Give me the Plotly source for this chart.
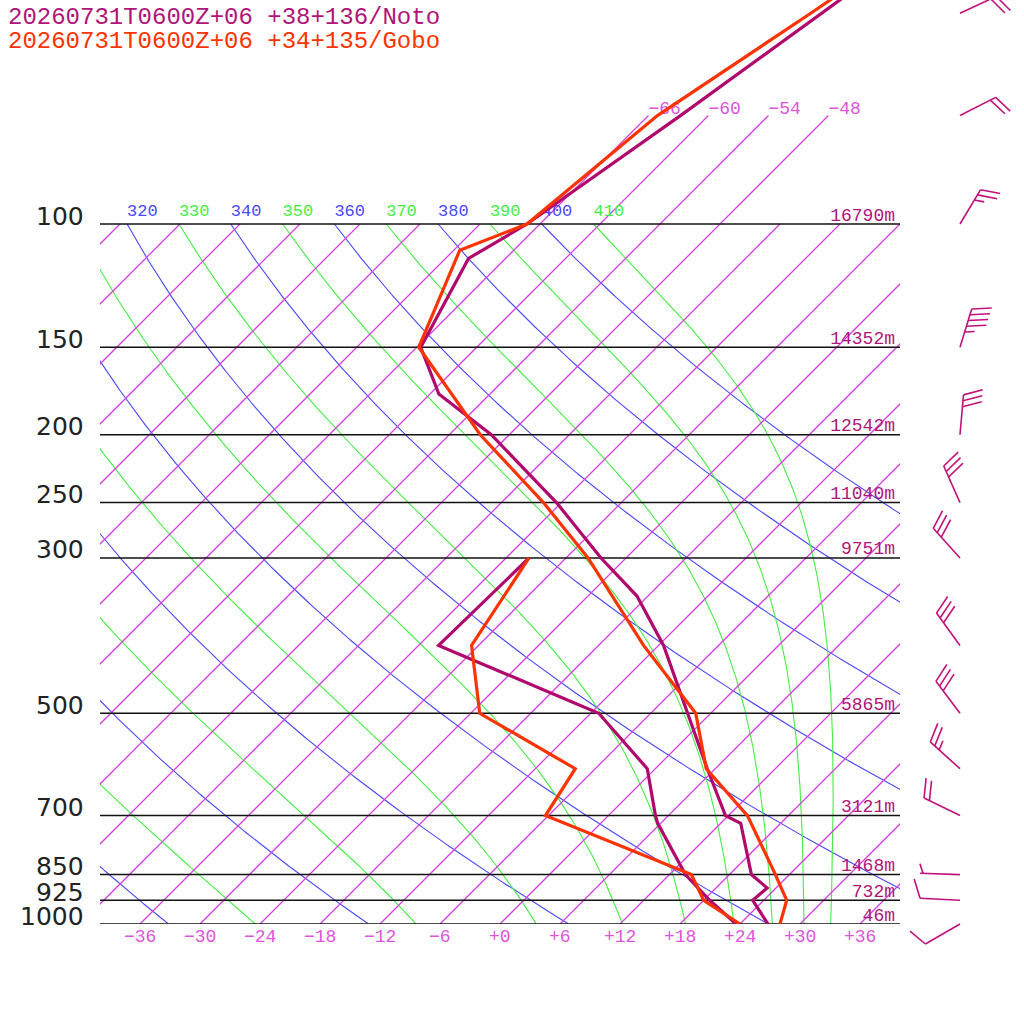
import numpy as np
import plotly.graph_objects as go

TITLES = ["20260731T0600Z+06 +38+136/Noto", "20260731T0600Z+06 +34+135/Gobo"]

NOTO_T_P = [1000, 925, 888, 850, 718, 700, 600, 500, 400, 340, 300, 250, 200, 175, 150, 112, 100, 70, 50, 45]
NOTO_T = [26.8, 22.9, 23.1, 20.2, 14.0, 11.7, 5.2, -2.3, -11.5, -19.1, -26.5, -36.5, -49.8, -59.1, -65.6, -69.7, -67.3, -62.8, -58.9, -57.7]
NOTO_TD_P = [1000, 925, 850, 718, 700, 600, 500, 400, 300]
NOTO_TD = [23.6, 18.6, 13.6, 5.7, 4.7, -0.8, -11.2, -34.0, -33.7]

GOBO_T_P = [1000, 925, 850, 700, 600, 500, 400, 300, 250, 200, 150, 109, 100, 70, 50, 45]
GOBO_T = [28.0, 26.3, 22.6, 13.9, 5.1, -1.5, -13.5, -27.8, -37.8, -50.9, -65.8, -71.4, -67.3, -65.1, -60.0, -58.5]
GOBO_TD_P = [1000, 925, 850, 700, 600, 500, 400, 300]
GOBO_TD = [24.0, 18.0, 14.2, -6.3, -8.0, -23.1, -30.7, -33.7]

WIND_P = [1000, 925, 850, 700, 600, 500, 400, 300, 250, 200, 150, 100, 70, 50]
WIND_DIR = [240, 273, 272, 296, 312, 323, 324, 318, 336, 5, 17, 31, 63, 65]
WIND_KT = [10, 10, 5, 20, 25, 30, 30, 30, 30, 30, 45, 25, 20, 20]

ISOBARS = [100, 150, 200, 250, 300, 500, 700, 850, 925, 1000]
HEIGHTS = [16790, 14352, 12542, 11040, 9751, 5865, 3121, 1468, 732, 46]

ISOTHERMS = list(range(-108, 37, 6))
HIGH_ISOTHERMS = [-66, -60, -54, -48]
AXIS_TEMPS = list(range(-36, 37, 6))
DRY_THETA = list(range(240, 401, 20))
MOIST_THETA = list(range(250, 411, 20))

NOTO_COLOR = "#b0086c"
GOBO_COLOR = "#ff3300"
TEXT_NOTO = "#b01478"
ISO_T_COLOR = "#d444dd"
ISO_T_TEXT = "#dd55dd"
DRY_COLOR = "#4848ff"
MOIST_COLOR = "#44ee44"
MONO = "Liberation Mono"

SKEW = 70.0          # deg C of shift per decade of pressure
PX_DECADE = 700.0    # pixels per decade of pressure
P_TOP = 1000 / 10 ** (924 / PX_DECADE)
P_BOTTOM = 1000 * 10 ** (100 / PX_DECADE)
RD, CP, LV, EPS = 287.04, 1005.7, 2.501e6, 0.622


def skew(t, p):
    return np.asarray(t, dtype=float) + SKEW * np.log10(1000.0 / np.asarray(p, dtype=float))


def p_shift(p, px):
    # move a pressure by px screen pixels (positive = downwards)
    return p * 10 ** (px / PX_DECADE)


def signed(t):
    return "+%d" % t if t >= 0 else "\u2212%d" % -t


def moist_dtdp(t_k, p):
    es = 6.112 * np.exp(17.67 * (t_k - 273.15) / (t_k - 29.65))
    rs = EPS * es / (p - es)
    num = RD * t_k + LV * rs
    den = CP + LV * LV * rs * EPS / (RD * t_k * t_k)
    return num / (p * den)


def pseudo_adiabat(theta, levels):
    t = theta * (levels[0] / 1000.0) ** (RD / CP)
    out = [t]
    for p0, p1 in zip(levels[:-1], levels[1:]):
        h = p1 - p0
        k1 = moist_dtdp(t, p0)
        k2 = moist_dtdp(t + h * k1 / 2, p0 + h / 2)
        k3 = moist_dtdp(t + h * k2 / 2, p0 + h / 2)
        k4 = moist_dtdp(t + h * k3, p1)
        t = t + h * (k1 + 2 * k2 + 2 * k3 + k4) / 6
        out.append(t)
    return np.array(out) - 273.15


def joined(segments):
    xs, ys = [], []
    for x, y in segments:
        xs += [float(v) for v in x] + [None]
        ys += [float(v) for v in y] + [None]
    return xs, ys


def barb(p, direction, speed, base=60.0, staff=40.0, full=20.0, gap=6.0):
    d = np.radians(direction)
    ux, uy = np.sin(d), -np.cos(d)
    a = np.radians(70)
    bx = ux * np.cos(a) - uy * np.sin(a)
    by = ux * np.sin(a) + uy * np.cos(a)
    segs = [((0, staff * ux), (0, staff * uy))]
    n_full, half = speed // 10, (speed % 10) >= 5
    for i in range(n_full):
        sx, sy = (staff - i * gap) * ux, (staff - i * gap) * uy
        segs.append(((sx, sx + full * bx), (sy, sy + full * by)))
    if half:
        k = n_full if n_full else 0.5
        sx, sy = (staff - k * gap) * ux, (staff - k * gap) * uy
        segs.append(((sx, sx + full / 2 * bx), (sy, sy + full / 2 * by)))
    out = []
    for xs, ys in segs:
        out.append(([base + v for v in xs], [p_shift(p, v) for v in ys]))
    return out


levels = np.geomspace(100, 1000, 300)
fig = go.Figure()

# dry adiabats
segs = []
for th in DRY_THETA:
    t = th * (levels / 1000.0) ** (RD / CP) - 273.15
    segs.append((skew(t, levels), levels))
x, y = joined(segs)
fig.add_trace(go.Scatter(x=x, y=y, mode="lines", line=dict(color=DRY_COLOR, width=1.1), hoverinfo="skip"))

# moist adiabats
segs = []
for th in MOIST_THETA:
    t = pseudo_adiabat(th, levels)
    segs.append((skew(t, levels), levels))
x, y = joined(segs)
fig.add_trace(go.Scatter(x=x, y=y, mode="lines", line=dict(color=MOIST_COLOR, width=1.1), hoverinfo="skip"))

# isotherms
segs = []
for t in ISOTHERMS:
    top = 70 if t in HIGH_ISOTHERMS else 100
    segs.append((skew([t, t], [1000, top]), [1000, top]))
x, y = joined(segs)
fig.add_trace(go.Scatter(x=x, y=y, mode="lines", line=dict(color=ISO_T_COLOR, width=1.3), hoverinfo="skip"))

# isobars
x, y = joined([([-40, 40], [p, p]) for p in ISOBARS])
fig.add_trace(go.Scatter(x=x, y=y, mode="lines", line=dict(color="#111111", width=1.5), hoverinfo="skip"))

# adiabat labels along the top (only those starting inside the chart)
lab_x, lab_t, lab_c = [], [], []
for th in sorted(DRY_THETA + MOIST_THETA):
    xv = float(skew(th * 0.1 ** (RD / CP) - 273.15, 100))
    if xv < -40:
        continue
    lab_x.append(xv)
    lab_t.append(str(th))
    lab_c.append(DRY_COLOR if th in DRY_THETA else MOIST_COLOR)
fig.add_trace(go.Scatter(
    x=lab_x, y=[p_shift(100, -12)] * len(lab_x), mode="text", text=lab_t,
    textposition="middle right", textfont=dict(family=MONO, size=17, color=lab_c),
    cliponaxis=False, hoverinfo="skip",
))

# isotherm labels in the stratosphere
fig.add_trace(go.Scatter(
    x=skew(HIGH_ISOTHERMS, 70), y=[p_shift(70, -6)] * len(HIGH_ISOTHERMS), mode="text",
    text=[signed(t) for t in HIGH_ISOTHERMS],
    textposition="middle right", textfont=dict(family=MONO, size=18, color=ISO_T_TEXT),
    cliponaxis=False, hoverinfo="skip",
))

# geopotential heights
fig.add_trace(go.Scatter(
    x=[39.5] * len(ISOBARS), y=[p_shift(p, -8) for p in ISOBARS], mode="text",
    text=[f"{h}m" for h in HEIGHTS], textposition="middle left",
    textfont=dict(family=MONO, size=18, color=TEXT_NOTO),
    cliponaxis=False, hoverinfo="skip",
))

# profiles
for tp, tv, dp, dv, col in [
    (NOTO_T_P, NOTO_T, NOTO_TD_P, NOTO_TD, NOTO_COLOR),
    (GOBO_T_P, GOBO_T, GOBO_TD_P, GOBO_TD, GOBO_COLOR),
]:
    fig.add_trace(go.Scatter(x=skew(dv, dp), y=dp, mode="lines", line=dict(color=col, width=3.2), hoverinfo="skip"))
    fig.add_trace(go.Scatter(x=skew(tv, tp), y=tp, mode="lines", line=dict(color=col, width=3.2), hoverinfo="skip"))

# wind barbs (own axes so the low barbs are not clipped)
segs = []
for p, d, s in zip(WIND_P, WIND_DIR, WIND_KT):
    segs += barb(p, d, s)
x, y = joined(segs)
fig.add_trace(go.Scatter(x=x, y=y, xaxis="x2", yaxis="y2", mode="lines",
                         line=dict(color="#c0127a", width=1.6), hoverinfo="skip"))

annotations = []
for p in ISOBARS:
    annotations.append(dict(
        x=86 / 1024, xref="paper", xanchor="right", y=np.log10(p), yref="y", yanchor="middle",
        yshift=8, text=str(p), showarrow=False, font=dict(family="DejaVu Sans", size=25, color="#222222"),
    ))
for t in AXIS_TEMPS:
    annotations.append(dict(
        x=t, xref="x", xanchor="center", y=100 / 1024, yref="paper", yanchor="middle",
        yshift=-13, text=signed(t), showarrow=False, font=dict(family=MONO, size=18, color=ISO_T_TEXT),
    ))
for i, (txt, col) in enumerate(zip(TITLES, [TEXT_NOTO, GOBO_COLOR])):
    annotations.append(dict(
        x=6 / 1024, xref="paper", xanchor="left", y=1 - (17 + 24 * i) / 1024, yref="paper",
        yanchor="middle", text=txt, showarrow=False, font=dict(family=MONO, size=24, color=col),
    ))

fig.update_layout(
    width=1024,
    height=1024,
    margin=dict(l=0, r=0, t=0, b=0),
    paper_bgcolor="white",
    plot_bgcolor="white",
    showlegend=False,
    xaxis=dict(domain=[100 / 1024, 900 / 1024], range=[-40, 40], visible=False),
    yaxis=dict(type="log", domain=[100 / 1024, 1], range=[3, np.log10(P_TOP)], visible=False),
    xaxis2=dict(domain=[900 / 1024, 1], range=[0, 124], anchor="y2", visible=False),
    yaxis2=dict(type="log", domain=[0, 1], anchor="x2", range=[np.log10(P_BOTTOM), np.log10(P_TOP)], visible=False),
    annotations=annotations,
)

fig.write_html("out.html", config={"displayModeBar": False},
               post_script="document.body.style.margin='0';")
